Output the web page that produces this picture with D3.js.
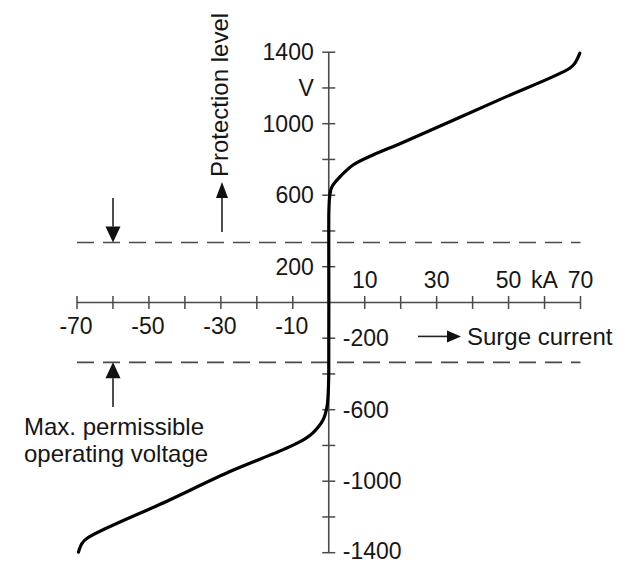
<!DOCTYPE html>
<html>
<head>
<meta charset="utf-8">
<script src="https://cdn.jsdelivr.net/npm/d3@7"></script>
<style>
  html, body { margin: 0; padding: 0; background: #fff; }
  svg { display: block; font-family: "Liberation Sans", Arial, Helvetica, sans-serif; }
</style>
</head>
<body>
<svg id="chart" width="623" height="563"></svg>
<script>
// ---- data ----
const xTicks = [-70, -60, -50, -40, -30, -20, -10, 0, 10, 20, 30, 40, 50, 60, 70];
const xLabelsBelow = [-70, -50, -30, -10];
const xLabelsAbove = [10, 30, 50, 70];
const yTicks = [-1400, -1200, -1000, -800, -600, -400, -200, 0, 200, 400, 600, 800, 1000, 1200, 1400];
const yLabelsLeftValues = [1400, 1200, 1000, 600, 200];
const yLabelsLeftText = ["1400", "V", "1000", "600", "200"];
const yLabelsRight = [-200, -600, -1000, -1400];
const maxOperatingVoltage = [335, -335];
// characteristic curve: surge current (kA) vs protection level (V)
const curveCurrent = [-69.6, -68.6, -67.1, -45, -27, -15, -9.9, -6.5, -4.4, -1.6, -0.5, -0.15, 0, 0, 0.05, 0.3, 0.83, 3.1, 6.75, 12.3, 19.8, 47.2, 67.0, 68.4, 69.8];
const curveVoltage = [-1397, -1348, -1318, -1112, -942, -843, -798, -762, -730, -658, -585, -506, -400, 400, 520, 600, 645, 702, 769, 825, 888, 1132, 1310, 1338, 1394];

// ---- drawing ----
const svg = d3.select("#chart");
const x = d3.scaleLinear().domain([-70, 70]).range([77, 580.5]);
const y = d3.scaleLinear().domain([-1400, 1400]).range([552.7, 52.2]);
const axisColor = "#4a4a4a";
const textColor = "#161616";
const fontSize = 23;

// dashed max operating voltage lines
svg.selectAll("line.dash").data(maxOperatingVoltage).enter().append("line")
  .attr("class", "dash")
  .attr("x1", x(-70)).attr("x2", x(70))
  .attr("y1", d => y(d)).attr("y2", d => y(d))
  .attr("stroke", axisColor).attr("stroke-width", 1.6)
  .attr("stroke-dasharray", "17,9");

// x axis
svg.append("line")
  .attr("x1", x(-70)).attr("x2", x(70))
  .attr("y1", y(0)).attr("y2", y(0))
  .attr("stroke", axisColor).attr("stroke-width", 1.6);
svg.selectAll("line.xt").data(xTicks).enter().append("line")
  .attr("class", "xt")
  .attr("x1", d => x(d)).attr("x2", d => x(d))
  .attr("y1", y(0) - 6.5).attr("y2", y(0) + 6.5)
  .attr("stroke", axisColor).attr("stroke-width", 1.5);

// y axis
svg.append("line")
  .attr("x1", x(0)).attr("x2", x(0))
  .attr("y1", y(1400)).attr("y2", y(-1400))
  .attr("stroke", axisColor).attr("stroke-width", 1.6);
svg.selectAll("line.yt").data(yTicks.filter(d => d !== 0)).enter().append("line")
  .attr("class", "yt")
  .attr("x1", x(0) - 6.5).attr("x2", x(0) + 6.5)
  .attr("y1", d => y(d)).attr("y2", d => y(d))
  .attr("stroke", axisColor).attr("stroke-width", 1.5);

// x labels
svg.selectAll("text.xb").data(xLabelsBelow).enter().append("text")
  .attr("class", "xb")
  .attr("x", d => x(d) - 1).attr("y", y(0) + 32)
  .attr("text-anchor", "middle").attr("font-size", fontSize).attr("fill", textColor)
  .text(d => String(d));
svg.selectAll("text.xa").data(xLabelsAbove).enter().append("text")
  .attr("class", "xa")
  .attr("x", d => x(d)).attr("y", y(0) - 14)
  .attr("text-anchor", "middle").attr("font-size", fontSize).attr("fill", textColor)
  .text(d => String(d));
svg.append("text")
  .attr("x", x(60)).attr("y", y(0) - 14)
  .attr("text-anchor", "middle").attr("font-size", fontSize).attr("fill", textColor)
  .text("kA");

// y labels
svg.selectAll("text.yl").data(yLabelsLeftValues).enter().append("text")
  .attr("class", "yl")
  .attr("x", x(0) - 15).attr("y", d => y(d)).attr("dy", "0.36em")
  .attr("text-anchor", "end").attr("font-size", fontSize).attr("fill", textColor)
  .text((d, i) => yLabelsLeftText[i]);
svg.selectAll("text.yr").data(yLabelsRight).enter().append("text")
  .attr("class", "yr")
  .attr("x", x(0) + 14).attr("y", d => Math.min(y(d), 551)).attr("dy", "0.34em")
  .attr("text-anchor", "start").attr("font-size", fontSize).attr("fill", textColor)
  .text(d => String(d));

// arrow helper
function arrow(x1, y1, x2, y2, headLen, headW) {
  const ang = Math.atan2(y2 - y1, x2 - x1);
  const bx = x2 - headLen * Math.cos(ang), by = y2 - headLen * Math.sin(ang);
  svg.append("line").attr("x1", x1).attr("y1", y1).attr("x2", bx).attr("y2", by)
    .attr("stroke", "#222").attr("stroke-width", 1.6);
  const px = -Math.sin(ang) * headW / 2, py = Math.cos(ang) * headW / 2;
  svg.append("path")
    .attr("d", `M${x2},${y2}L${bx + px},${by + py}L${bx - px},${by - py}Z`)
    .attr("fill", "#111");
}

// Surge current label
arrow(418, y(-190), 461, y(-190), 14, 12);
svg.append("text").attr("x", 467).attr("y", y(-190)).attr("dy", "0.36em")
  .attr("font-size", 24).attr("fill", textColor).text("Surge current");

// Protection level label (rotated)
arrow(222, 232, 222, 182, 16, 12);
svg.append("text")
  .attr("transform", "translate(228,177) rotate(-90)")
  .attr("font-size", 24).attr("fill", textColor).text("Protection level");

// Max operating voltage arrows and label
arrow(113, 198, 113, y(maxOperatingVoltage[0]), 16, 15);
arrow(113, 407, 113, y(maxOperatingVoltage[1]), 16, 15);
svg.append("text").attr("x", 24).attr("y", 435)
  .attr("font-size", 24).attr("fill", textColor).text("Max. permissible");
svg.append("text").attr("x", 24).attr("y", 462)
  .attr("font-size", 24).attr("fill", textColor).text("operating voltage");

// characteristic curve
const pts = curveCurrent.map((c, i) => [c, curveVoltage[i]]);
const line = d3.line().x(d => x(d[0])).y(d => y(d[1])).curve(d3.curveCatmullRom.alpha(0.5));
svg.append("path").datum(pts).attr("d", line)
  .attr("fill", "none").attr("stroke", "#000").attr("stroke-width", 3.2)
  .attr("stroke-linecap", "round").attr("stroke-linejoin", "round");
</script>
</body>
</html>
